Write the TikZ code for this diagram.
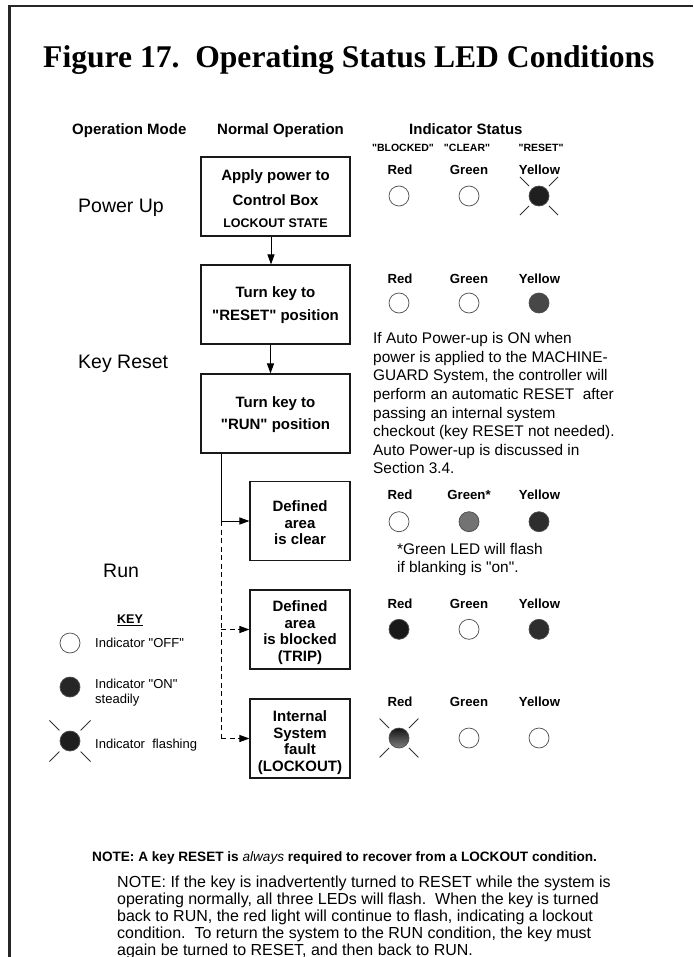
\documentclass[tikz,border=0pt]{standalone}
\usepackage{fontspec}
\setmainfont{Liberation Sans}[Ligatures=TeXOff]
\newfontfamily\titleserif{Liberation Serif}
\usetikzlibrary{arrows.meta,calc}
\newcommand\fsz[2]{\fontsize{#1}{#2}\selectfont}
\newcommand\flashrays[3]{%
  \foreach \ang in {45,135,225,315}{\draw[ray] ($(#1)+(\ang:#2)$) -- ($(#1)+(\ang:#3)$);}}
\begin{document}
\begin{tikzpicture}[x=1pt,y=-1pt,
  box/.style={draw=black!90, line width=1.1pt, minimum width=149pt, minimum height=79pt, inner sep=0pt, align=center, font=\bfseries\fsz{15}{17}},
  sbox/.style={box, minimum width=100pt, font=\bfseries\fsz{15}{16.5}},
  led/.style={circle, draw=black!70, line width=0.7pt, minimum size=20pt, inner sep=0pt},
  ray/.style={line width=0.8pt, black!80},
  arr/.style={-{Triangle[length=10pt,width=7pt]}, line width=1pt},
  dsh/.style={dash pattern=on 5pt off 3.5pt},
  hdr/.style={anchor=base west, inner sep=0pt, font=\bfseries\fsz{15}{18}},
  lbl/.style={anchor=base, inner sep=0pt, font=\bfseries\fsz{13.2}{15}},
  qlbl/.style={anchor=base, inner sep=0pt, font=\bfseries\fsz{10.5}{12}},
  mode/.style={anchor=base west, inner sep=0pt, font=\fsz{19.5}{22}},
  keytxt/.style={anchor=base west, inner sep=0pt, font=\fsz{13}{15}},
  body/.style={anchor=north west, inner sep=0pt, align=left, font=\fsz{15.4}{18.6}},
]
\useasboundingbox (0,0) rectangle (693,957);
\fill[white] (0,0) rectangle (693,957);
% frame
\draw[line width=2.6pt, black!85, line join=miter] (9.5,957) -- (9.5,6) -- (693,6);

% title
\node[anchor=base west, inner sep=0pt, font=\titleserif\bfseries\fsz{31.6}{36}] (title) at (43,68)
  {Figure 17.\hspace{0.5em}Operating Status LED Conditions};

% headers
\node[hdr] (hmode) at (72,135) {Operation Mode};
\node[hdr] (hnorm) at (217,135) {Normal Operation};
\node[hdr] (hind) at (409,135) {Indicator Status};
\node[qlbl] (qb) at (403,152) {"BLOCKED"};
\node[qlbl] (qc) at (467,152) {"CLEAR"};
\node[qlbl] (qr) at (541,152) {"RESET"};

% mode labels
\node[mode] (mpow) at (78,213) {Power Up};
\node[mode] (mkey) at (78,368) {Key Reset};
\node[mode] (mrun) at (103,577) {Run};

% boxes
\node[box] (b1) at (275.5,196.5) {\rule{0pt}{15pt}Apply power to\\[8pt]Control Box\\[5pt]{\fsz{12.5}{17}LOCKOUT STATE}};
\node[box] (b2) at (275.5,304.5) {\rule{0pt}{11.7pt}Turn key to\\[6.5pt]"RESET" position};
\node[box] (b3) at (275.5,413.5) {\rule{0pt}{12.2pt}Turn key to\\[5pt]"RUN" position};
\node[sbox] (b4) at (300,521) {\rule{0pt}{14.5pt}Defined\\[1pt]area\\[-0.5pt]is clear};
\node[sbox] (b5) at (300,629.5) {\rule{0pt}{16.3pt}Defined\\[1pt]area\\[-1pt]is blocked\\[0.5pt](TRIP)};
\node[sbox] (b6) at (300,738.5) {\rule{0pt}{18.7pt}Internal\\System\\fault\\(LOCKOUT)};

% connectors
\draw[arr] ([xshift=-4.5pt]b1.south) -- ([xshift=-4.5pt]b2.north);
\draw[arr] ([xshift=-5pt]b2.south) -- ([xshift=-5pt]b3.north);
\coordinate (j) at ([xshift=-54.5pt]b3.south);
\draw[arr] (j) |- (b4.west);
\draw[dsh] (j |- b4.west) -- (j |- b6.west);
\draw[arr,dsh] (j |- b5.west) -- (b5.west);
\draw[arr,dsh] (j |- b6.west) -- (b6.west);

% LED labels
\foreach \yy/\tg in {174.6/1,283.5/2,499.5/3,608/4,706/5}{
  \node[lbl] (lr\tg) at (400,\yy) {Red};
  \node[lbl] (ly\tg) at (539.5,\yy) {Yellow};
}
\foreach \yy/\tg in {174.6/1,283.5/2,608/4,706/5}{
  \node[lbl] (lg\tg) at (469,\yy) {Green};
}
\node[lbl] (lg3) at (469,499.5) {Green*};

% LEDs row 1
\node[led] (r1) at (399,196) {};
\node[led] (g1) at (469,196) {};
\node[led, fill=black!88] (y1) at (539,196) {};
\flashrays{y1}{14}{27}
% row 2
\node[led] (r2) at (399,303) {};
\node[led] (g2) at (469,303) {};
\node[led, fill=black!72] (y2) at (539,303) {};
% row 3
\node[led] (r3) at (399,521.7) {};
\node[led, fill=black!55] (g3) at (469,521.7) {};
\node[led, fill=black!82] (y3) at (539,521.7) {};
% row 4
\node[led, fill=black!90] (r4) at (399,629.3) {};
\node[led] (g4) at (469,629.3) {};
\node[led, fill=black!82] (y4) at (539,629.3) {};
% row 5
\node[led, top color=black!92, bottom color=black!50] (r5) at (399,738) {};
\flashrays{r5}{14}{27.5}
\node[led] (g5) at (469,738) {};
\node[led] (y5) at (539,738) {};

% right text
\node[body] (auto) at (373,332.3) {If Auto Power-up is ON when\\
power is applied to the MACHINE-\\
GUARD System, the controller will\\
perform an automatic RESET~ after\\
passing an internal system\\
checkout (key RESET not needed).\\
Auto Power-up is discussed in\\
Section 3.4.};
\node[body] (gnote) at (397,542.8) {*Green LED will flash\\if blanking is "on".};

% key
\node[anchor=base, inner sep=0pt, font=\bfseries\fsz{12.6}{15}] (key) at (130,623.5) {\underline{KEY}};
\node[led] (koff) at (70,643) {};
\node[keytxt] (toff) at (95,647.5) {Indicator "OFF"};
\node[led, fill=black!85] (kon) at (70,687) {};
\node[keytxt, align=left] (ton) at (95,703.5) {Indicator "ON"\\steadily};
\node[led, fill=black!88] (kfl) at (70,741) {};
\flashrays{kfl}{15}{29}
\node[keytxt] (tfl) at (95,748.5) {Indicator\ \ flashing};

% bottom notes
\node[anchor=base west, inner sep=0pt, font=\bfseries\fsz{13.6}{16}] (note1) at (92,861)
  {NOTE: A key RESET is {\mdseries\itshape always} required to recover from a LOCKOUT condition.};
\node[anchor=north west, inner sep=0pt, align=left, font=\fsz{16}{17}] (note2) at (117,875.3)
  {NOTE: If the key is inadvertently turned to RESET while the system is\\
operating normally, all three LEDs will flash.\ \ When the key is turned\\
back to RUN, the red light will continue to flash, indicating a lockout\\
condition.\ \ To return the system to the RUN condition, the key must\\
again be turned to RESET, and then back to RUN.};
\end{tikzpicture}
\end{document}
